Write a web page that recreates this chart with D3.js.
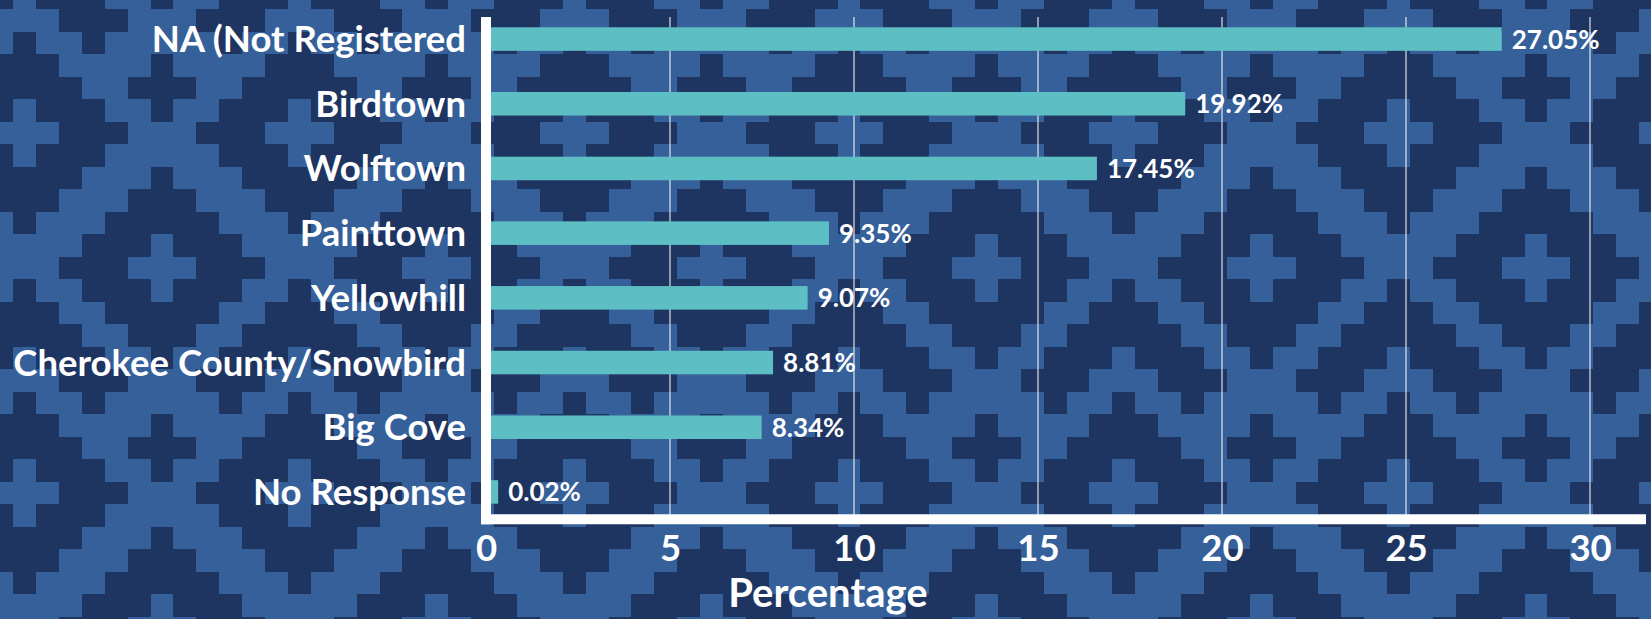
<!DOCTYPE html>
<html>
<head>
<meta charset="utf-8">
<script src="https://cdn.jsdelivr.net/npm/d3@7"></script>
<style>
  html, body { margin: 0; padding: 0; background: #2b4a7d; }
  svg { display: block; }
  text { font-family: "Lato", "Open Sans", sans-serif; font-weight: 700; fill: #ffffff; }
</style>
</head>
<body>
<svg id="chart" width="1651" height="619"></svg>
<script>
// ---- data ----
const categories = [
  "NA (Not Registered",
  "Birdtown",
  "Wolftown",
  "Painttown",
  "Yellowhill",
  "Cherokee County/Snowbird",
  "Big Cove",
  "No Response"
];
// bar lengths as drawn in the picture (percent axis)
const barValues = [27.6, 19.0, 16.6, 9.32, 8.74, 7.8, 7.49, 0.33];
// data labels printed next to the bars
const valueLabels = ["27.05%", "19.92%", "17.45%", "9.35%", "9.07%", "8.81%", "8.34%", "0.02%"];
const xTicks = [0, 5, 10, 15, 20, 25, 30];
const xTitle = "Percentage";

// ---- layout ----
const W = 1651, H = 619;
const svg = d3.select("#chart");

// ---- decorative background (stepped diamond weave) ----
(function drawBackground() {
  const dark = "#1e3461", light = "#35609a";
  const cw = 22.9, ch = 22.5;          // cell size
  const cx0 = 162, cy0 = 268;          // centre of one motif
  const PX = 12, PY = 16;              // repeat in cells
  const sites = [
    { x: 0, y: 0, t: "A" },
    { x: 6, y: 10, t: "A" },
    { x: 0, y: 8, t: "C" }
  ];
  const mod = (a, n) => ((a % n) + n) % n;
  function isDark(i, j) {
    let best = Infinity, type = "A";
    for (const s of sites) {
      let di = mod(i - s.x, PX); di = Math.min(di, PX - di);
      let dj = mod(j - s.y, PY); dj = Math.min(dj, PY - dj);
      const d = di + dj;
      if (d < best || (d === best && s.t === "A")) { best = d; type = s.t; }
    }
    if (type === "A") {
      if (best <= 1) return false;
      if (best <= 4) return true;
      if (best <= 6) return false;
      return true;
    } else {
      if (best <= 1) return true;
      if (best <= 4) return false;
      if (best <= 6) return true;
      return false;
    }
  }
  const bg = svg.append("g").attr("class", "bg").attr("shape-rendering", "crispEdges");
  bg.append("rect").attr("x", 0).attr("y", 0).attr("width", W).attr("height", H).attr("fill", light);
  const iMin = Math.floor((0 - cx0) / cw) - 1, iMax = Math.ceil((W - cx0) / cw) + 1;
  const jMin = Math.floor((0 - cy0) / ch) - 1, jMax = Math.ceil((H - cy0) / ch) + 1;
  const ex = i => Math.round(cx0 - cw / 2 + i * cw);
  const ey = j => Math.round(cy0 - ch / 2 + j * ch);
  const runs = [];
  for (let j = jMin; j <= jMax; j++) {
    let start = null;
    for (let i = iMin; i <= iMax + 1; i++) {
      const dk = i <= iMax && isDark(i, j);
      if (dk && start === null) start = i;
      if (!dk && start !== null) { runs.push({ i0: start, i1: i, j }); start = null; }
    }
  }
  bg.selectAll("rect.cell").data(runs).join("rect")
    .attr("class", "cell")
    .attr("x", d => ex(d.i0))
    .attr("y", d => ey(d.j))
    .attr("width", d => ex(d.i1) - ex(d.i0))
    .attr("height", d => ey(d.j + 1) - ey(d.j))
    .attr("fill", dark);
})();

// ---- scales ----
const x = d3.scaleLinear().domain([0, 31.52]).range([486, 1646]);
const y = d3.scaleBand().domain(categories).range([6.7, 524.3]).paddingInner(0.636).paddingOuter(0.318);

// ---- gridlines ----
svg.append("g").selectAll("line.grid")
  .data(xTicks.filter(t => t > 0))
  .join("line")
  .attr("class", "grid")
  .attr("x1", d => Math.round(x(d))).attr("x2", d => Math.round(x(d)))
  .attr("y1", 17).attr("y2", 515)
  .attr("stroke", "rgba(255,255,255,0.5)")
  .attr("stroke-width", 2);

// ---- bars ----
svg.append("g").selectAll("rect.bar")
  .data(categories)
  .join("rect")
  .attr("class", "bar")
  .attr("x", x(0))
  .attr("y", d => y(d))
  .attr("width", (d, i) => x(barValues[i]) - x(0))
  .attr("height", y.bandwidth())
  .attr("fill", "#5dbfc4");

// ---- axes ----
const xAxis = d3.axisBottom(x).tickValues(xTicks).tickSize(0).tickPadding(0).tickFormat(d3.format("d"));
const gx = svg.append("g").attr("transform", "translate(0,519.3)").call(xAxis);
gx.select(".domain").attr("stroke", "#ffffff").attr("stroke-width", 10).attr("d", `M${x(0) - 5},0H${x.range()[1]}`);
gx.selectAll(".tick text")
  .attr("y", 41.5).attr("dy", null)
  .attr("fill", "#ffffff")
  .style("font-family", "Lato, 'Open Sans', sans-serif")
  .style("font-weight", 700)
  .style("font-size", "36.5px");

const yAxis = d3.axisLeft(y).tickSize(0).tickPadding(20);
const gy = svg.append("g").attr("transform", `translate(${x(0)},0)`).call(yAxis);
gy.select(".domain").attr("stroke", "#ffffff").attr("stroke-width", 10).attr("d", "M0,17V524.3");
gy.selectAll(".tick text")
  .attr("x", -20).attr("dy", "13")
  .attr("fill", "#ffffff")
  .style("font-family", "Lato, 'Open Sans', sans-serif")
  .style("font-weight", 700)
  .style("font-size", "36.5px");

// ---- value labels ----
svg.append("g").selectAll("text.val")
  .data(categories)
  .join("text")
  .attr("class", "val")
  .attr("x", (d, i) => x(barValues[i]) + 10)
  .attr("y", d => y(d) + y.bandwidth() / 2 + 9.5)
  .style("font-size", "26px")
  .text((d, i) => valueLabels[i]);

// ---- axis title ----
svg.append("text")
  .attr("x", 828).attr("y", 607)
  .attr("text-anchor", "middle")
  .style("font-size", "40px")
  .text(xTitle);
</script>
</body>
</html>
